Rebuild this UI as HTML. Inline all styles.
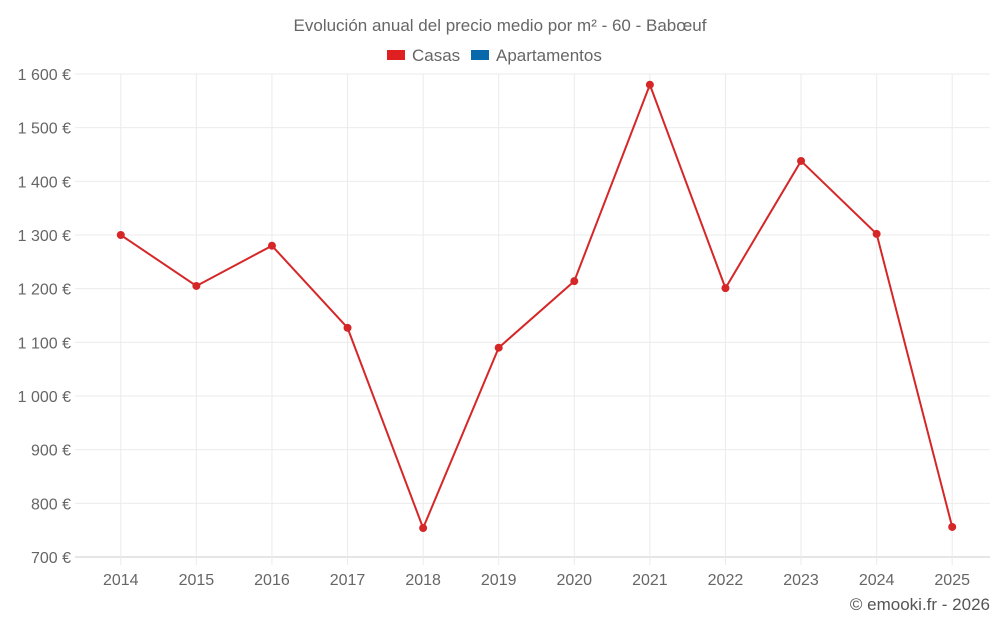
<!DOCTYPE html>
<html><head><meta charset="utf-8"><style>
body{margin:0;background:#fff;font-family:"Liberation Sans",sans-serif;}
</style></head><body>
<svg id="chart" width="1000" height="625" xmlns="http://www.w3.org/2000/svg" font-family="Liberation Sans, sans-serif">
<text x="500" y="31" text-anchor="middle" font-size="17" fill="#666">Evolución anual del precio medio por m² - 60 - Babœuf</text>
<g><rect x="387" y="50" width="18" height="10" fill="#e02020"/><text x="412" y="61" font-size="17" fill="#666">Casas</text></g>
<g><rect x="471" y="50" width="18" height="10" fill="#0868ac"/><text x="496" y="61" font-size="17" fill="#666">Apartamentos</text></g>
<g id="grid"></g><g id="axes"></g><g id="series"></g>
<text x="990" y="610" text-anchor="end" font-size="17" fill="#555">© emooki.fr - 2026</text>
</svg>
<script>
const categories=["2014","2015","2016","2017","2018","2019","2020","2021","2022","2023","2024","2025"];
const casas=[1300,1205,1280,1127,754,1090,1214,1580,1201,1438,1302,756];
const yTicks=[700,800,900,1000,1100,1200,1300,1400,1500,1600];
const yTickLabels=["700 €","800 €","900 €","1 000 €","1 100 €","1 200 €","1 300 €","1 400 €","1 500 €","1 600 €"];
const L=83,R=990,T=74,B=557,yMin=700,yMax=1600;
const bw=(R-L)/categories.length;
const x=i=>L+bw*(i+0.5);
const y=v=>B-(v-yMin)/(yMax-yMin)*(B-T);
const NS="http://www.w3.org/2000/svg";
function mk(tag,attrs,parent){const e=document.createElementNS(NS,tag);for(const k in attrs)e.setAttribute(k,attrs[k]);document.getElementById(parent).appendChild(e);return e;}
yTicks.forEach((t,i)=>{
 const g=mk("line",{x1:L-8,x2:R,y1:y(t),y2:y(t),stroke:i==0?"#ccc":"#ebebeb"},"grid");
 
 
 const tx=mk("text",{x:71,y:y(t)+6,"text-anchor":"end","font-size":"16",fill:"#666"},"axes");
 tx.textContent=yTickLabels[i];
 
 
});
categories.forEach((c,i)=>{
 const g=mk("line",{x1:x(i),x2:x(i),y1:T,y2:B+8,stroke:"#ebebeb"},"grid");
 
 
 const tx=mk("text",{x:x(i),y:585,"text-anchor":"middle","font-size":"16",fill:"#666"},"axes");
 tx.textContent=c;
 
 
});
const ln=mk("polyline",{points:casas.map((v,i)=>x(i)+","+y(v)).join(" "),fill:"none",stroke:"#d62728","stroke-width":"2"},"series");


casas.forEach((v,i)=>{
 const p=mk("circle",{cx:x(i),cy:y(v),r:4,fill:"#d62728"},"series");
 
 
});
</script>
</body></html>
